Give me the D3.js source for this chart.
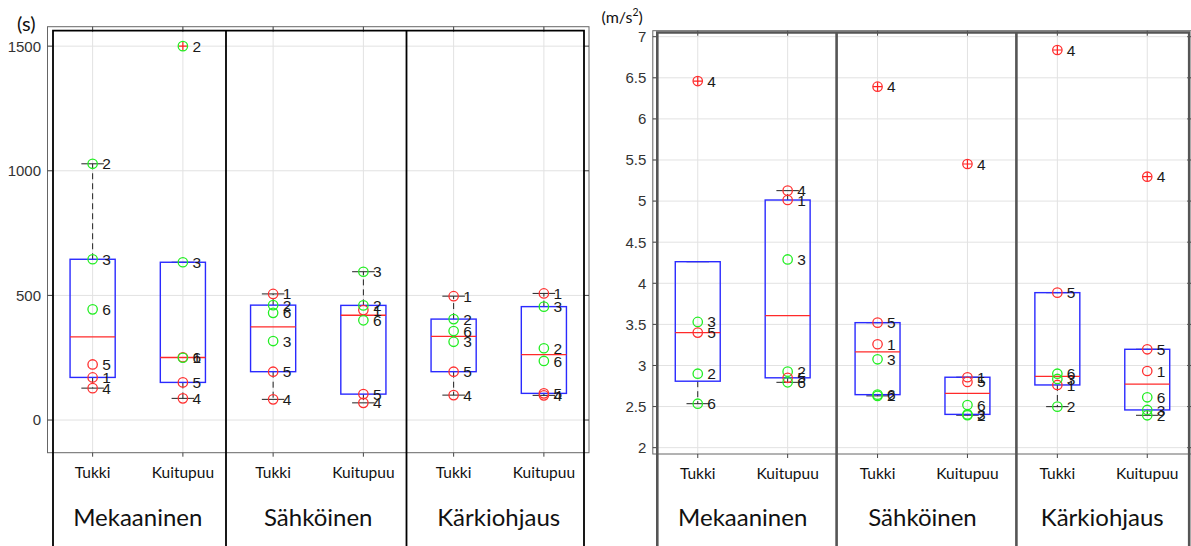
<!DOCTYPE html>
<html>
<head>
<meta charset="utf-8">
<title>Boxplots</title>
<style>
body { margin:0; background:#fff; }
svg { display:block; }
.tick-label { font-family:"Liberation Sans", Arial, sans-serif; font-size:15px; fill:#333; }
.pt-label { font-family:"Liberation Sans", Arial, sans-serif; font-size:15.5px; fill:#1a1a1a; }
.cat-label { font-family:Lato, "Noto Sans", sans-serif; font-size:15.5px; fill:#111; }
.group-label { font-family:Lato, "Noto Sans", sans-serif; font-size:24px; fill:#111; }
.unit { font-family:Lato, "Noto Sans", sans-serif; fill:#111; }
.grid line { stroke:#e2e2e2; stroke-width:1; }
</style>
</head>
<body>
<svg id="chart" width="1191" height="546"></svg>
<script src="https://cdn.jsdelivr.net/npm/d3@7"></script>
<script>

var groups = ["Mekaaninen", "Sähköinen", "Kärkiohjaus"];
var types = ["Tukki", "Kuitupuu"];
var pointIds = [1, 2, 3, 4, 5, 6];
var redIds = [1, 4, 5];

// time (s), one row per category, values for points 1..6
var timeTicks = [0, 500, 1000, 1500];
var timeValues = [
	[171, 1028, 645, 128, 223, 444],
	[252, 1500, 633, 87, 151, 250],
	[506, 461, 317, 83, 194, 430],
	[441, 460, 595, 69, 104, 400],
	[497, 405, 314, 100, 194, 357],
	[508, 288, 455, 99, 107, 237]
];

// acceleration (m/s2), point 1 missing in first category
var accelTicks = [2, 2.5, 3, 3.5, 4, 4.5, 5, 5.5, 6, 6.5, 7];
var accelValues = [
	[null, 2.90, 3.53, 6.46, 3.40, 2.535],
	[5.013, 2.925, 4.29, 5.127, 2.85, 2.795],
	[3.258, 2.63, 3.075, 6.392, 3.521, 2.645],
	[2.857, 2.395, 2.405, 5.451, 2.80, 2.519],
	[2.763, 2.499, 2.836, 6.838, 3.886, 2.90],
	[2.933, 2.394, 2.459, 5.297, 3.197, 2.613]
];

var svg = d3.select("#chart");

// matlab style percentile
function pct(s, p){
	var n = s.length, pos = n*p/100 + 0.5;
	if (pos <= 1) return s[0];
	if (pos >= n) return s[n-1];
	var lo = Math.floor(pos);
	return s[lo-1] + (pos-lo)*(s[lo]-s[lo-1]);
}

function boxStats(vals){
	var s = vals.filter(function(v){ return v != null; }).sort(d3.ascending);
	var q1 = pct(s,25), q3 = pct(s,75), med = pct(s,50), iqr = q3-q1;
	var hiLim = q3 + 1.5*iqr, loLim = q1 - 1.5*iqr;
	var inside = s.filter(function(v){ return v >= loLim && v <= hiLim; });
	return {
		q1:q1, q3:q3, med:med,
		lo: Math.min(d3.min(inside), q1),
		hi: Math.max(d3.max(inside), q3),
		hiLim:hiLim, loLim:loLim
	};
}

function drawPanel(cfg){
	var x = d3.scaleLinear().domain([0.5, 6.5]).range(cfg.xr);
	var y = d3.scaleLinear().domain(cfg.yd).range(cfg.yr);
	var x0 = cfg.xr[0], x1 = cfg.xr[1], yT = cfg.yr[1], yB = cfg.yr[0];
	var cats = d3.range(1, 7);

	var g = svg.append("g");

	var grid = g.append("g").attr("class","grid");
	grid.selectAll(".gy").data(cfg.ticks).enter().append("line")
		.attr("x1",x0).attr("x2",x1)
		.attr("y1",function(d){ return y(d); }).attr("y2",function(d){ return y(d); });
	grid.selectAll(".gx").data(cats).enter().append("line")
		.attr("x1",function(d){ return x(d); }).attr("x2",function(d){ return x(d); })
		.attr("y1",yT).attr("y2",yB);

	// axis box
	g.append("rect")
		.attr("x",x0).attr("y",yT).attr("width",x1-x0).attr("height",yB-yT)
		.attr("fill","none").attr("stroke","#666").attr("stroke-width",1);

	// ticks
	var tk = g.append("g").attr("stroke","#444").attr("stroke-width",1);
	cfg.ticks.forEach(function(t){
		tk.append("line").attr("x1",x0).attr("x2",x0+5).attr("y1",y(t)).attr("y2",y(t));
		tk.append("line").attr("x1",x1).attr("x2",x1-5).attr("y1",y(t)).attr("y2",y(t));
	});
	cats.forEach(function(c){
		tk.append("line").attr("x1",x(c)).attr("x2",x(c)).attr("y1",yT).attr("y2",yT+5);
		tk.append("line").attr("x1",x(c)).attr("x2",x(c)).attr("y1",yB).attr("y2",yB+4);
	});

	g.selectAll(".tick-label").data(cfg.ticks).enter().append("text")
		.attr("class","tick-label")
		.attr("x",x0-6.5).attr("y",function(d){ return y(d); })
		.attr("dy","0.36em").attr("text-anchor","end")
		.text(function(d){ return d; });

	// overlay frame with group separators
	var ov = g.append("g").attr("stroke",cfg.frameColor).attr("stroke-width",cfg.frameWidth).attr("fill","none");
	var fl = x0 + cfg.inset[0], fr = x1 - cfg.inset[1], ft = yT + cfg.inset[2];
	ov.append("path").attr("d","M"+fl+",546V"+ft+"H"+fr+"V546");
	[2.5, 4.5].forEach(function(s){
		ov.append("line").attr("x1",x(s)+cfg.sepShift).attr("x2",x(s)+cfg.sepShift).attr("y1",ft).attr("y2",546);
	});

	// boxes
	var w = x(1.25)-x(1);
	cfg.values.forEach(function(vals, i){
		var c = i+1, st = boxStats(vals), cx = x(c);
		var wk = g.append("g");
		wk.append("line").attr("x1",cx).attr("x2",cx).attr("y1",y(st.q3)).attr("y2",y(st.hi))
			.attr("stroke","#222").attr("stroke-dasharray","6,4");
		wk.append("line").attr("x1",cx).attr("x2",cx).attr("y1",y(st.q1)).attr("y2",y(st.lo))
			.attr("stroke","#222").attr("stroke-dasharray","6,4");
		[st.hi, st.lo].forEach(function(v){
			wk.append("line").attr("x1",cx-w/2).attr("x2",cx+w/2).attr("y1",y(v)).attr("y2",y(v))
				.attr("stroke","#222");
		});
		wk.append("rect").attr("x",cx-w).attr("width",2*w)
			.attr("y",y(st.q3)).attr("height",y(st.q1)-y(st.q3))
			.attr("fill","none").attr("stroke","#2a2aff").attr("stroke-width",1.4);
		wk.append("line").attr("x1",cx-w).attr("x2",cx+w).attr("y1",y(st.med)).attr("y2",y(st.med))
			.attr("stroke","#ff2a2a").attr("stroke-width",1.3);

		var pts = pointIds.map(function(id, k){ return {id:id, v:vals[k]}; })
			.filter(function(p){ return p.v != null; });

		// outlier markers
		pts.filter(function(p){ return p.v > st.hiLim || p.v < st.loLim; }).forEach(function(p){
			wk.append("path")
				.attr("d","M"+(cx-4.5)+","+y(p.v)+"h9M"+cx+","+(y(p.v)-4.5)+"v9")
				.attr("stroke","#ff2020").attr("stroke-width",1.2);
		});

		wk.selectAll("circle").data(pts).enter().append("circle")
			.attr("cx",cx).attr("cy",function(p){ return y(p.v); }).attr("r",4.7)
			.attr("fill","none").attr("stroke-width",1.3)
			.attr("stroke",function(p){ return redIds.indexOf(p.id) != -1 ? "#ff3030" : "#22ee22"; });

		wk.selectAll(".pt-label").data(pts).enter().append("text")
			.attr("class","pt-label")
			.attr("x",cx+9.5).attr("y",function(p){ return y(p.v); })
			.attr("dy","0.36em")
			.text(function(p){ return p.id; });
	});

	// category and group labels
	cats.forEach(function(c){
		g.append("text").attr("class","cat-label")
			.attr("x",x(c)).attr("y",yB+25).attr("text-anchor","middle")
			.text(types[(c-1)%2]);
	});
	groups.forEach(function(name, k){
		g.append("text").attr("class","group-label")
			.attr("x",x(2*k+1.5)).attr("y",525.5).attr("text-anchor","middle")
			.text(name);
	});
}

drawPanel({
	xr:[47.5, 589], yd:[-131, 1578], yr:[452.7, 26.7],
	ticks:timeTicks, values:timeValues,
	frameColor:"#000", frameWidth:1.8, inset:[5.5, 5, 4], sepShift:-2
});

drawPanel({
	xr:[652.8, 1192.2], yd:[1.923, 7.073], yr:[454, 30.7],
	ticks:accelTicks, values:accelValues,
	frameColor:"#555", frameWidth:2.6, inset:[4.5, 3, 1.8], sepShift:4
});

svg.append("text").attr("class","unit").attr("x",17).attr("y",31)
	.style("font-size","20px").text("(s)");

var u = svg.append("text").attr("class","unit").attr("x",601.5).attr("y",23)
	.style("font-size","16px");
u.append("tspan").text("(m/s");
u.append("tspan").attr("dy",-7).style("font-size","10.5px").text("2");
u.append("tspan").attr("dy",7).text(")");

</script>
</body>
</html>
